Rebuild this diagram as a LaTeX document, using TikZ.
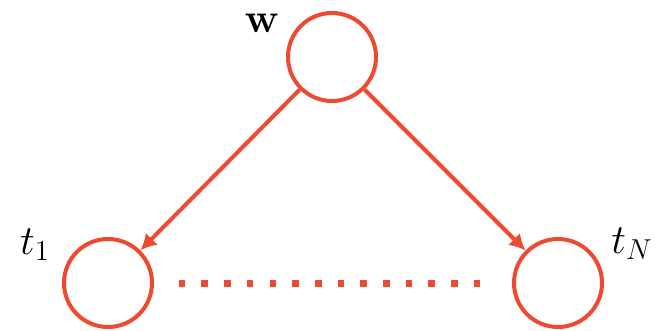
\documentclass[tikz,border=0pt]{standalone}
\usepackage{amsmath}
\usetikzlibrary{arrows.meta}
\definecolor{nodered}{RGB}{238,74,50}
\begin{document}
\begin{tikzpicture}[x=0.5pt,y=-0.5pt,
  varnode/.style={circle,draw=nodered,line width=2pt,minimum size=44pt,inner sep=0pt},
  edge/.style={draw=nodered,line width=2pt,-{Latex[length=8pt,width=8.5pt]}},
  dotline/.style={draw=nodered,line width=3.5pt,dash pattern=on 3.3pt off 8.05pt},
  lbl/.style={font=\fontsize{21.5}{25}\selectfont,inner sep=0pt}]
\useasboundingbox (0,0) rectangle (659,331);
\node[varnode] (w) at (332,57) {};
\node[varnode] (t1) at (108,283) {};
\node[varnode] (tN) at (558,283) {};
\node[lbl] (lw) at (262,23) {$\mathbf{w}$};
\node[lbl] (l1) at (35,245) {$t_1$};
\node[lbl] (lN) at (632,244) {$t_N$};
\draw[edge] (w) -- (t1);
\draw[edge] (w) -- (tN);
\coordinate (d1) at (178.7,284);
\coordinate (d2) at (480.4,284);
\draw[dotline] (d1) -- (d2);
\end{tikzpicture}
\end{document}
